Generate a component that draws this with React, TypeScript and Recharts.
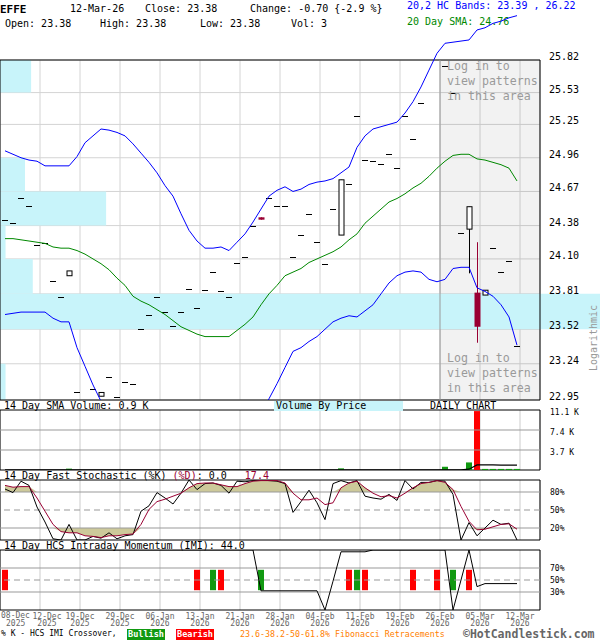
import React from "react"
import {
  ComposedChart,
  Line,
  Bar,
  Area,
  XAxis,
  YAxis,
  CartesianGrid,
  ReferenceArea,
  ReferenceLine,
  Cell,
} from "recharts"

const MONO = '"DejaVu Sans Mono", monospace'

// day 1 = 08-Dec-2025 ... day 65 = 12-Mar-2026
const closes = [
  24.43, 24.4, 24.61, 24.55, 24.22, 24.23, 23.92, 23.78, 24.0, 23.01,
  22.92, 23.04, 23.01, 23.13, 22.97, 23.09, 23.08, 23.52, 23.64, 23.78,
  23.66, 23.55, 23.66, 23.85, 23.69, 23.84, 23.99, 23.83, 23.78, 24.07,
  24.12, 24.38, 24.43, 24.61, 24.55, 24.55, 24.12, 24.3, 24.48, 24.24,
  24.06, 24.52, 24.77, 24.73, 25.32, 24.94, 24.93, 24.91, 24.99, 24.87,
  25.32, 25.12, 25.44, 25.86, 25.9, 25.77, 25.53, 24.32, 24.54, 23.54,
  23.84, 24.19, 23.99, 24.08, 23.38,
]

// days with a real body (the rest traded flat)
const bodies = [
  { day: 9, open: 23.96, high: 24.0, low: 23.96, close: 24.0 },
  { day: 13, open: 22.98, high: 23.01, low: 22.98, close: 23.01 },
  { day: 33, open: 24.45, high: 24.45, low: 24.43, close: 24.43 },
  { day: 43, open: 24.3, high: 24.77, low: 24.3, close: 24.77 },
  { day: 59, open: 24.35, high: 24.54, low: 23.98, close: 24.54 },
  { day: 60, open: 23.82, high: 24.24, low: 23.41, close: 23.54 },
  { day: 61, open: 23.8, high: 23.84, low: 23.8, close: 23.84 },
]

const upperBand = [
  25.02, 24.99, 24.96, 24.94, 24.93, 24.89, 24.89, 24.89, 24.89, 24.97,
  25.09, 25.15, 25.21, 25.2, 25.18, 25.15, 25.08, 25.0, 24.92, 24.83,
  24.72, 24.63, 24.48, 24.34, 24.25, 24.19, 24.19, 24.2, 24.17, 24.24,
  24.31, 24.41, 24.52, 24.63, 24.68, 24.71, 24.67, 24.69, 24.73, 24.75,
  24.76, 24.78, 24.83, 24.88, 25.05, 25.15, 25.21, 25.23, 25.25, 25.27,
  25.35, 25.45, 25.58, 25.73, 25.88, 25.97, 25.98, 25.99, 26.0, 26.09,
  26.11, 26.15, 26.17, 26.2, 26.22,
]

const lowerBand = [
  23.64, 23.65, 23.66, 23.66, 23.66, 23.66, 23.61, 23.58, 23.58, 23.37,
  23.22, 23.07, 22.94, 22.8, 22.68, 22.58, 22.5, 22.45, 22.42, 22.4,
  22.39, 22.38, 22.38, 22.39, 22.4, 22.42, 22.44, 22.47, 22.52, 22.58,
  22.66, 22.74, 22.84, 22.96, 23.08, 23.21, 23.34, 23.37, 23.42, 23.46,
  23.52, 23.58, 23.61, 23.63, 23.62, 23.67, 23.72, 23.81, 23.9, 23.96,
  23.99, 24.0, 23.99, 23.93, 23.91, 23.93, 24.02, 24.03, 24.03, 23.86,
  23.83, 23.79, 23.72, 23.62, 23.39,
]

const sma20 = [
  24.27, 24.27, 24.26, 24.25, 24.24, 24.23, 24.2, 24.19, 24.19, 24.17,
  24.14, 24.1, 24.06, 24.01, 23.94, 23.88, 23.79, 23.75, 23.72, 23.68,
  23.64, 23.59, 23.54, 23.51, 23.48, 23.46, 23.46, 23.46, 23.46, 23.51,
  23.56, 23.62, 23.72, 23.81, 23.88, 23.96, 23.99, 24.02, 24.07, 24.1,
  24.13, 24.16, 24.2, 24.26, 24.31, 24.4, 24.46, 24.52, 24.58, 24.61,
  24.65, 24.7, 24.74, 24.8, 24.87, 24.93, 24.98, 24.99, 24.99, 24.95,
  24.94, 24.92, 24.9, 24.87, 24.76,
]

const volumeDays = [9, 43, 56, 59, 60, 61, 62, 63, 64, 65]
const volumeK = [0.25, 0.3, 0.6, 1.4, 10.9, 0.2, 0.2, 0.2, 0.2, 0.2]

const volSma = [
  0.03, 0.03, 0.03, 0.03, 0.03, 0.03, 0.03, 0.03, 0.03, 0.03,
  0.03, 0.03, 0.03, 0.03, 0.03, 0.03, 0.03, 0.03, 0.03, 0.03,
  0.03, 0.03, 0.03, 0.03, 0.03, 0.03, 0.03, 0.03, 0.03, 0.03,
  0.03, 0.03, 0.03, 0.03, 0.03, 0.03, 0.03, 0.03, 0.03, 0.03,
  0.03, 0.03, 0.03, 0.03, 0.03, 0.03, 0.03, 0.03, 0.03, 0.03,
  0.03, 0.03, 0.03, 0.03, 0.03, 0.05, 0.05, 0.05, 0.15, 0.93,
  0.93, 0.93, 0.92, 0.92, 0.9,
]

const stochK = [
  85, 79, 98, 91, 55, 30, 2, 0, 26, 0,
  0, 6, 3, 12, 2, 7, 9, 48, 57, 79,
  70, 60, 78, 100, 84, 94, 95, 91, 78, 98,
  97, 99, 100, 99, 98, 94, 46, 64, 83, 62,
  34, 94, 99, 95, 99, 73, 70, 68, 76, 66,
  99, 85, 96, 96, 99, 98, 76, 0, 29, 7,
  20, 33, 26, 28, 0,
]

const stochD = [
  91, 88, 89, 89, 70, 48, 26, 14, 12, 12,
  7, 6, 4, 7, 7, 9, 10, 26, 51, 64,
  68, 73, 78, 87, 94, 95, 95, 92, 89, 89,
  94, 98, 99, 99, 99, 95, 78, 67, 67, 70,
  59, 62, 87, 95, 98, 87, 78, 72, 74, 70,
  78, 87, 94, 96, 99, 96, 84, 56, 31, 17,
  18, 22, 26, 27, 18,
]

const imi = [
  100, 100, 100, 100, 100, 100, 100, 100, 100, 100,
  100, 100, 100, 100, 100, 100, 100, 100, 100, 100,
  100, 100, 100, 100, 100, 100, 100, 100, 100, 100,
  100, 100, 32, 32, 32, 32, 32, 32, 32, 32,
  0, 48, 97, 97, 97, 97, 100, 100, 100, 100,
  100, 100, 100, 100, 100, 100, 0, 50, 100, 39,
  44, 44, 44, 44, 44,
]

const bullDays = [27, 33, 45, 57]
const bearDays = [1, 25, 28, 44, 46, 52, 55, 59]

const priceTicks = [22.95, 23.24, 23.52, 23.81, 24.1, 24.38, 24.67, 24.96, 25.25, 25.53, 25.82]
// volume by price, shares per price band (top band first)
const vbpShares = [560, 0, 0, 450, 1910, 100, 590, 10800, 0, 100]
const VBP_FULL = 10800

const volTicks = [3.7, 7.4, 11.1]
const stochTicks = [20, 50, 80]
const imiTicks = [30, 50, 70]

const weekDays = [5, 10, 15, 20, 25, 30, 35, 40, 45, 50, 55, 60, 65]
const firstDate = ["08-Dec", "2025"]
const dateNames = ["12-Dec", "19-Dec", "29-Dec", "06-Jan", "13-Jan", "21-Jan", "28-Jan", "04-Feb", "11-Feb", "19-Feb", "26-Feb", "05-Mar", "12-Mar"]
const yearNames = ["2025", "2025", "2025", "2026", "2026", "2026", "2026", "2026", "2026", "2026", "2026", "2026", "2026"]

// layout
const DAY_PX = 8
const X_MIN = 0.375
const X_MAX = X_MIN + 540 / DAY_PX
const GRID_SHIFT = 0.375
const gridTicks = weekDays.map((d) => d + GRID_SHIFT)
const P_MIN = priceTicks[0]
const P_MAX = priceTicks[priceTicks.length - 1]
const P_TOP = P_MAX * Math.pow(P_MAX / P_MIN, 60 / 340)
const VOL_MAX = 11.1

const rows = closes.map((c, k) => {
  const day = k + 1
  const b = bodies.find((d) => d.day === day)
  const vi = volumeDays.indexOf(day)
  const bull = bullDays.includes(day)
  const bear = bearDays.includes(day)
  return {
    day,
    open: b ? b.open : c,
    high: b ? b.high : c,
    low: b ? b.low : c,
    close: c,
    dash: b ? null : c,
    range: b ? [b.low, b.high] : null,
    upper: upperBand[k],
    lower: lowerBand[k],
    sma: sma20[k],
    vol: vi >= 0 ? volumeK[vi] : null,
    volColor: b && b.close < b.open ? "#ff0000" : "#119911",
    volSma: volSma[k],
    k: stochK[k],
    d: stochD[k],
    hiFill: [80, Math.max(80, stochD[k])],
    loFill: [Math.min(20, stochD[k]), 20],
    imi: imi[k],
    sig: bull || bear ? [33, 67] : null,
    sigColor: bull ? "#119911" : "#ff0000",
  }
})

function CandleBody(props: any) {
  const { x, y, width, height, payload } = props
  if (!payload || !payload.range || x == null || y == null) return <g />
  const cx = Math.round(x + width / 2)
  const top = Math.min(y, y + height)
  const h = Math.abs(height)
  const lh = Math.log(payload.high)
  const span = lh - Math.log(payload.low) || 1
  const py = (p: number) => top + (h * (lh - Math.log(p))) / span
  const up = payload.close >= payload.open
  const color = up ? "#000" : "#990033"
  const bTop = py(Math.max(payload.open, payload.close))
  const bBot = py(Math.min(payload.open, payload.close))
  return (
    <g>
      <line x1={cx + 0.5} x2={cx + 0.5} y1={top} y2={top + h} stroke={color} />
      {up ? (
        <rect x={cx - 2} y={bTop} width={5} height={Math.max(bBot - bTop, 1)} fill="#fff" stroke="#000" />
      ) : (
        <rect x={cx - 2.5} y={bTop} width={6} height={Math.max(bBot - bTop, 1)} fill={color} />
      )}
    </g>
  )
}

function DashDot(props: any) {
  const { cx, cy, payload, index } = props
  if (cx == null || cy == null || payload?.dash == null) return <g key={`d${index}`} />
  const yy = Math.round(cy) + 0.5
  return <line key={`d${index}`} x1={cx - 3} x2={cx + 3} y1={yy} y2={yy} stroke="#000" />
}

const PriceTick = ({ x, y, payload }: any) => (
  <text x={x + 1} y={y - 3.5} dominantBaseline="central" fontFamily={MONO} fontSize={10} fill="#000">
    {payload.value.toFixed(2)}
  </text>
)

const VolTick = ({ x, y, payload }: any) => (
  <text x={x + 2} y={y + 2} dominantBaseline="central" fontFamily={MONO} fontSize={8} fill="#000">
    {`${payload.value} K`}
  </text>
)

const PctTick = ({ x, y, payload }: any) => (
  <text x={x + 2} y={y} dominantBaseline="central" fontFamily={MONO} fontSize={8} fill="#000">
    {`${payload.value}%`}
  </text>
)

// date and year sit just under the momentum panel
const DateTick = ({ x, index }: any) => {
  const dx = index === 0 ? 7 : 0
  return (
    <g>
      <text x={x + dx} y={616} textAnchor="middle" dominantBaseline="central" fontFamily={MONO} fontSize={8} fill="#666">
        {dateNames[index]}
      </text>
      <text x={x + dx} y={623.5} textAnchor="middle" dominantBaseline="central" fontFamily={MONO} fontSize={8} fill="#666">
        {yearNames[index]}
      </text>
    </g>
  )
}

function Txt({ x, y, size = 10, lh, color = "#000", bold = false, children }: any) {
  const line = lh ?? size
  return (
    <div
      style={{
        position: "absolute",
        left: x,
        top: y - line * 0.5,
        fontFamily: MONO,
        fontSize: size,
        lineHeight: `${line}px`,
        color,
        fontWeight: bold ? 700 : 400,
        whiteSpace: "pre",
      }}
    >
      {children}
    </div>
  )
}

const hiddenX = (
  <XAxis dataKey="day" type="number" domain={[X_MIN, X_MAX]} ticks={gridTicks} interval={0} hide allowDataOverflow />
)

function PanelBorder({ top }: { top: number }) {
  return (
    <ReferenceArea x1={X_MIN} x2={X_MAX} y1={0} y2={top} fill="none" stroke="#000" ifOverflow="visible" />
  )
}

export default function App() {
  return (
    <div
      style={{
        position: "absolute",
        left: 0,
        top: 0,
        width: 600,
        height: 640,
        overflow: "hidden",
        background: "#fff",
        fontFamily: MONO,
      }}
    >
      {/* header */}
      <Txt x={0} y={9} size={11} bold>EFFE</Txt>
      <Txt x={70} y={9}>12-Mar-26</Txt>
      <Txt x={145} y={9}>Close: 23.38</Txt>
      <Txt x={250} y={9}>Change: -0.70 {"{"}-2.9 %{"}"}</Txt>
      <Txt x={407} y={6} color="#0000ff">20,2 HC Bands: 23.39 , 26.22</Txt>
      <Txt x={5} y={24}>Open: 23.38</Txt>
      <Txt x={100} y={24}>High: 23.38</Txt>
      <Txt x={200} y={24}>Low: 23.38</Txt>
      <Txt x={291} y={24}>Vol: 3</Txt>
      <Txt x={407} y={22} color="#008800">20 Day SMA: 24.76</Txt>

      {/* price panel: grid, volume by price, candles */}
      <div style={{ position: "absolute", left: 0, top: 0 }}>
        <ComposedChart width={600} height={410} data={rows} margin={{ top: 60, right: 0, bottom: 10, left: 0 }}>
          {hiddenX}
          <CartesianGrid stroke="#d4d4d4" />
          <ReferenceArea
            x1={gridTicks[10]}
            x2={X_MAX}
            y1={P_MIN}
            y2={P_MAX}
            fill="#000"
            fillOpacity={0.05}
            ifOverflow="hidden"
          />
          {vbpShares.map((v, k) =>
            v > 0 ? (
              <ReferenceArea
                key={`vbp${k}`}
                x1={X_MIN}
                x2={X_MIN + (v / VBP_FULL) * (600 / DAY_PX)}
                y1={priceTicks[priceTicks.length - 2 - k]}
                y2={priceTicks[priceTicks.length - 1 - k]}
                fill="#c8f4fa"
                fillOpacity={1}
                ifOverflow="visible"
              />
            ) : null
          )}
          <ReferenceLine x={gridTicks[10]} stroke="#999" />
          <Bar dataKey="range" barSize={6} shape={CandleBody} isAnimationActive={false} />
          <Line dataKey="dash" stroke="none" dot={DashDot} activeDot={false} isAnimationActive={false} />
          <ReferenceArea x1={X_MIN} x2={X_MAX} y1={P_MIN} y2={P_MAX} fill="none" stroke="#000" ifOverflow="visible" />
          <YAxis
            orientation="right"
            width={60}
            scale="log"
            domain={[P_MIN, P_MAX]}
            ticks={priceTicks}
            interval={0}
            allowDataOverflow
            axisLine={false}
            tickLine={false}
            tick={<PriceTick />}
          />
        </ComposedChart>
      </div>

      {/* bands and moving average, allowed to run above the panel */}
      <div style={{ position: "absolute", left: 0, top: 0 }}>
        <ComposedChart width={600} height={400} data={rows} margin={{ top: 0, right: 60, bottom: 0, left: 0 }}>
          <XAxis dataKey="day" type="number" domain={[X_MIN, X_MAX]} hide allowDataOverflow />
          <YAxis hide scale="log" domain={[P_MIN, P_TOP]} allowDataOverflow />
          <Line dataKey="upper" stroke="#0000ff" strokeWidth={1} dot={false} activeDot={false} isAnimationActive={false} />
          <Line dataKey="lower" stroke="#0000ff" strokeWidth={1} dot={false} activeDot={false} isAnimationActive={false} />
          <Line dataKey="sma" stroke="#008800" strokeWidth={1} dot={false} activeDot={false} isAnimationActive={false} />
        </ComposedChart>
      </div>

      {/* volume */}
      <div style={{ position: "absolute", left: 0, top: 405 }}>
        <ComposedChart width={600} height={70} data={rows} margin={{ top: 5, right: 0, bottom: 5, left: 0 }}>
          {hiddenX}
          <CartesianGrid horizontal={false} stroke="#cccccc" />
          {volTicks.slice(0, 2).map((t) => (
            <ReferenceLine key={`vt${t}`} y={t} stroke="#999" />
          ))}
          <Bar dataKey="vol" barSize={6} isAnimationActive={false}>
            {rows.map((r) => (
              <Cell key={`v${r.day}`} fill={r.volColor} />
            ))}
          </Bar>
          <Line dataKey="volSma" stroke="#000" strokeWidth={1.2} dot={false} activeDot={false} isAnimationActive={false} />
          <PanelBorder top={VOL_MAX} />
          <YAxis
            orientation="right"
            width={60}
            domain={[0, VOL_MAX]}
            ticks={volTicks}
            interval={0}
            allowDataOverflow
            axisLine={false}
            tickLine={false}
            tick={<VolTick />}
          />
        </ComposedChart>
      </div>

      {/* fast stochastic */}
      <div style={{ position: "absolute", left: 0, top: 475 }}>
        <ComposedChart width={600} height={70} data={rows} margin={{ top: 5, right: 0, bottom: 5, left: 0 }}>
          {hiddenX}
          <CartesianGrid horizontal={false} stroke="#cccccc" />
          <Area dataKey="hiFill" type="linear" fill="#cdc99a" fillOpacity={1} stroke="none" isAnimationActive={false} />
          <Area dataKey="loFill" type="linear" fill="#cdc99a" fillOpacity={1} stroke="none" isAnimationActive={false} />
          <ReferenceLine y={80} stroke="#999" />
          <ReferenceLine y={20} stroke="#999" />
          <ReferenceLine y={50} stroke="#999" strokeDasharray="6 4" />
          <Line dataKey="k" stroke="#000" strokeWidth={1} dot={false} activeDot={false} isAnimationActive={false} />
          <Line dataKey="d" stroke="#990033" strokeWidth={1} dot={false} activeDot={false} isAnimationActive={false} />
          <PanelBorder top={100} />
          <YAxis
            orientation="right"
            width={60}
            domain={[0, 100]}
            ticks={stochTicks}
            interval={0}
            allowDataOverflow
            axisLine={false}
            tickLine={false}
            tick={<PctTick />}
          />
        </ComposedChart>
      </div>

      {/* intraday momentum, with the date axis */}
      <div style={{ position: "absolute", left: 0, top: 0 }}>
        <ComposedChart width={600} height={640} data={rows} margin={{ top: 550, right: 0, bottom: 0, left: 0 }}>
          <XAxis
            dataKey="day"
            type="number"
            domain={[X_MIN, X_MAX]}
            ticks={gridTicks}
            interval={0}
            allowDataOverflow
            height={30}
            axisLine={false}
            tickLine={false}
            tick={<DateTick />}
          />
          <CartesianGrid horizontal={false} stroke="#cccccc" />
          <ReferenceLine y={70} stroke="#999" />
          <ReferenceLine y={30} stroke="#999" />
          <ReferenceLine y={50} stroke="#999" strokeDasharray="6 4" />
          <Bar dataKey="sig" barSize={6} isAnimationActive={false}>
            {rows.map((r) => (
              <Cell key={`s${r.day}`} fill={r.sigColor} />
            ))}
          </Bar>
          <Line dataKey="imi" stroke="#000" strokeWidth={1} dot={false} activeDot={false} isAnimationActive={false} />
          <PanelBorder top={100} />
          <YAxis
            orientation="right"
            width={60}
            domain={[0, 100]}
            ticks={imiTicks}
            interval={0}
            allowDataOverflow
            axisLine={false}
            tickLine={false}
            tick={<PctTick />}
          />
        </ComposedChart>
      </div>
      <Txt x={1} y={616} size={8} color="#666">{firstDate[0]}</Txt>
      <Txt x={6} y={623.5} size={8} color="#666">{firstDate[1]}</Txt>

      {/* overlays */}
      <Txt x={447} y={67} size={11.6} color="#9a9a9a">Log in to</Txt>
      <Txt x={447} y={82} size={11.6} color="#9a9a9a">view patterns</Txt>
      <Txt x={447} y={97} size={11.6} color="#9a9a9a">in this area</Txt>
      <Txt x={447} y={359} size={11.6} color="#9a9a9a">Log in to</Txt>
      <Txt x={447} y={374} size={11.6} color="#9a9a9a">view patterns</Txt>
      <Txt x={447} y={389} size={11.6} color="#9a9a9a">in this area</Txt>
      <div
        style={{
          position: "absolute",
          left: 594,
          top: 338,
          transform: "translate(-50%, -50%) rotate(-90deg)",
          fontSize: 10,
          lineHeight: "10px",
          color: "#999",
          whiteSpace: "pre",
        }}
      >
        Logarithmic
      </div>

      <Txt x={4} y={406}>14 Day SMA Volume: 0.9 K</Txt>
      <div
        style={{
          position: "absolute",
          left: 274,
          top: 401,
          width: 129,
          height: 10,
          background: "#c8f4fa",
          fontSize: 10,
          lineHeight: "10px",
          paddingLeft: 2,
          boxSizing: "border-box",
          whiteSpace: "pre",
        }}
      >
        Volume By Price
      </div>
      <Txt x={430} y={406}>DAILY CHART</Txt>

      <Txt x={4} y={475.5}>
        14 Day Fast Stochastic (%K) <span style={{ color: "#990033" }}>(%D)</span>: 0.0   <span style={{ color: "#990033" }}>17.4</span>
      </Txt>
      <Txt x={4} y={545.5}>14 Day HCS Intraday Momentum (IMI): 44.0</Txt>

      {/* legend */}
      <Txt x={1} y={634} size={8}>% K - HCS IMI Crossover, </Txt>
      <div
        style={{
          position: "absolute",
          left: 127,
          top: 629,
          width: 38,
          height: 11,
          background: "#119911",
          color: "#fff",
          fontSize: 8.5,
          lineHeight: "11px",
          textAlign: "center",
          fontWeight: 700,
        }}
      >
        Bullish
      </div>
      <div
        style={{
          position: "absolute",
          left: 176,
          top: 629,
          width: 38,
          height: 11,
          background: "#ff0000",
          color: "#fff",
          fontSize: 8.5,
          lineHeight: "11px",
          textAlign: "center",
          fontWeight: 700,
        }}
      >
        Bearish
      </div>
      <Txt x={240} y={634} size={8.3} color="#ff8000">23.6-38.2-50-61.8% Fibonacci Retracements</Txt>
      <Txt x={463} y={634.5} size={11.5} lh={10.5} bold color="#666">©HotCandlestick.com</Txt>
    </div>
  )
}
